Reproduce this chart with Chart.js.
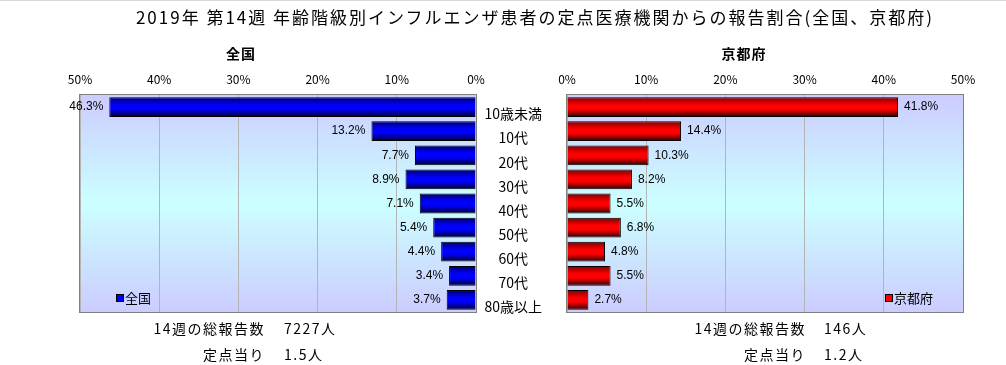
<!DOCTYPE html>
<html lang="ja">
<head>
<meta charset="utf-8">
<script src="https://cdn.jsdelivr.net/npm/chart.js@4.4.0/dist/chart.umd.min.js"></script>
<style>
  body { margin: 0; background: #fff; font-family: "Noto Sans CJK JP", sans-serif; }
  #wrap { position: relative; width: 1006px; height: 365px; overflow: hidden; border-top: 1px solid #d8d8d8; box-sizing: border-box; }
  canvas { position: absolute; top: 0; }
  .txt { position: absolute; white-space: nowrap; color: #000; line-height: 1; }
  .title { left: 0; width: 1070px; text-align: center; top: 7px; font-size: 17px; letter-spacing: 2px; }
  .sub { font-size: 14px; font-weight: bold; top: 45px; transform: translateX(-50%); letter-spacing: 1px; }
  .note { font-size: 14px; letter-spacing: 1.5px; }
  .lab { text-align: right; }
</style>
</head>
<body>
<div id="wrap">
  <canvas id="leftChart" width="500" height="365" style="left:0"></canvas>
  <canvas id="rightChart" width="530" height="365" style="left:476px"></canvas>
  <div class="txt title">2019年 第14週 年齢階級別インフルエンザ患者の定点医療機関からの報告割合(全国、京都府)</div>
  <div class="txt sub" style="left:241px">全国</div>
  <div class="txt sub" style="left:744px">京都府</div>
  <div class="txt note lab" style="right:741px; top:320px">14週の総報告数</div>
  <div class="txt note" style="left:284px; top:320px">7227人</div>
  <div class="txt note lab" style="right:741px; top:346px">定点当り</div>
  <div class="txt note" style="left:284px; top:346px">1.5人</div>
  <div class="txt note lab" style="right:200px; top:320px">14週の総報告数</div>
  <div class="txt note" style="left:824px; top:320px">146人</div>
  <div class="txt note lab" style="right:200px; top:346px">定点当り</div>
  <div class="txt note" style="left:824px; top:346px">1.2人</div>
</div>
<script>
// age groups and share of reported patients (%)
const categories = ['10歳未満', '10代', '20代', '30代', '40代', '50代', '60代', '70代', '80歳以上'];
const nationalValues = [46.3, 13.2, 7.7, 8.9, 7.1, 5.4, 4.4, 3.4, 3.7];
const kyotoValues = [41.8, 14.4, 10.3, 8.2, 5.5, 6.8, 4.8, 5.5, 2.7];
const axisTicks = [0, 10, 20, 30, 40, 50];

Chart.defaults.font.family = '"Noto Sans CJK JP", sans-serif';
Chart.defaults.color = '#000';

const BAR_PCT = 0.82;

// vertical shading for each bar: dark edges, bright middle
function barFill(top, mid, bottom) {
    return function (ctx) {
        const chart = ctx.chart;
        const y = chart.scales.y;
        if (!chart.chartArea || !y || ctx.type !== 'data') return mid;
        const c = y.getPixelForValue(ctx.dataIndex);
        const h = y.height / categories.length * BAR_PCT / 2;
        const g = chart.ctx.createLinearGradient(0, c - h, 0, c + h);
        g.addColorStop(0, top);
        g.addColorStop(0.4, mid);
        g.addColorStop(0.6, mid);
        g.addColorStop(1, bottom);
        return g;
    };
}

// plot area: lavender -> cyan -> lavender, grey frame
const plotBg = {
    id: 'plotBg',
    beforeDraw(chart) {
        const a = chart.chartArea, c = chart.ctx;
        const g = c.createLinearGradient(0, a.top, 0, a.bottom);
        g.addColorStop(0, '#ccccff');
        g.addColorStop(0.5, '#ccffff');
        g.addColorStop(1, '#ccccff');
        c.save();
        c.fillStyle = g;
        c.fillRect(a.left, a.top, a.right - a.left, a.bottom - a.top);
        c.restore();
    },
    beforeDatasetsDraw(chart) {
        const a = chart.chartArea, c = chart.ctx;
        c.save();
        c.strokeStyle = '#808080';
        c.lineWidth = 1;
        c.strokeRect(Math.round(a.left) - 0.5, Math.round(a.top) - 0.5, Math.round(a.right - a.left) + 1, Math.round(a.bottom - a.top) + 1);
        c.restore();
    }
};

// value labels at bar ends + small legend box inside plot
const barLabels = {
    id: 'barLabels',
    afterDatasetsDraw(chart, args, opts) {
        const c = chart.ctx, a = chart.chartArea;
        const ds = chart.data.datasets[0];
        const meta = chart.getDatasetMeta(0);
        c.save();
        c.font = '12px "Liberation Sans", sans-serif';
        c.fillStyle = '#000';
        c.textBaseline = 'middle';
        meta.data.forEach((bar, i) => {
            const txt = ds.data[i].toFixed(1) + '%';
            if (opts.side === 'left') {
                c.textAlign = 'right';
                c.fillText(txt, bar.x - 6, bar.y);
            } else {
                c.textAlign = 'left';
                c.fillText(txt, bar.x + 6, bar.y);
            }
        });
        // legend
        const lx = opts.side === 'left' ? a.left + 37 : a.right - 77;
        const ly = a.bottom - 14;
        c.fillStyle = opts.legendColor;
        c.fillRect(lx, ly - 3, 6, 6);
        c.strokeStyle = '#000';
        c.strokeRect(lx - 0.5, ly - 3.5, 7, 7);
        c.fillStyle = '#000';
        c.textAlign = 'left';
        c.font = '13px "Noto Sans CJK JP", sans-serif';
        c.fillText(ds.label, lx + 8, ly);
        c.restore();
    }
};

function makeOptions(side) {
    const left = side === 'left';
    const yAxis = {
        display: !left,
        grid: { display: false },
        border: { display: false },
        ticks: { crossAlign: 'center', padding: 17, labelOffset: 7, autoSkip: false, font: { size: 14 } }
    };
    if (!left) yAxis.afterFit = s => { s.width = 91; };
    return {
        indexAxis: 'y',
        responsive: false,
        animation: false,
        devicePixelRatio: 1,
        layout: { padding: left ? { left: 80, right: 24, top: 0, bottom: 54 } : { left: 0, right: 43, top: 0, bottom: 54 } },
        scales: {
            x: {
                position: 'top',
                reverse: left,
                min: 0,
                max: 50,
                afterBuildTicks: s => { s.ticks = axisTicks.map(v => ({ value: v })); },
                afterFit: s => { s.height = 94; },
                ticks: { callback: v => v + '%', padding: 8, font: { size: 12 }, maxRotation: 0 },
                grid: { color: '#b4b4b4', drawTicks: false },
                border: { display: false }
            },
            y: yAxis
        },
        plugins: {
            legend: { display: false },
            tooltip: { enabled: false },
            barLabels: { side: side, legendColor: left ? '#0000ff' : '#ff0000' }
        }
    };
}

// 全国
new Chart(document.getElementById('leftChart').getContext('2d'), {
    type: 'bar',
    data: {
        labels: categories,
        datasets: [{
            label: '全国',
            data: nationalValues,
            backgroundColor: barFill('#000070', '#0000ff', '#000030'),
            borderColor: '#000',
            borderWidth: 1,
            barPercentage: BAR_PCT,
            categoryPercentage: 1
        }]
    },
    options: makeOptions('left'),
    plugins: [plotBg, barLabels]
});

// 京都府
new Chart(document.getElementById('rightChart').getContext('2d'), {
    type: 'bar',
    data: {
        labels: categories,
        datasets: [{
            label: '京都府',
            data: kyotoValues,
            backgroundColor: barFill('#800000', '#ff0000', '#300000'),
            borderColor: '#000',
            borderWidth: 1,
            barPercentage: BAR_PCT,
            categoryPercentage: 1
        }]
    },
    options: makeOptions('right'),
    plugins: [plotBg, barLabels]
});
</script>
</body>
</html>
